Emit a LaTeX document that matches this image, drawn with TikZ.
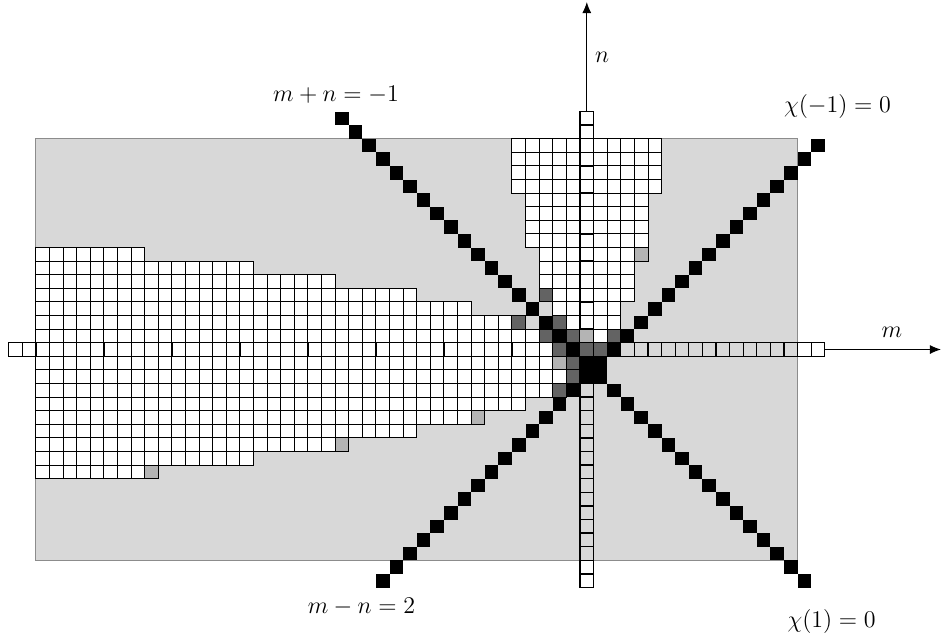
\documentclass[tikz,border=0pt]{standalone}
\usetikzlibrary{arrows.meta}
\definecolor{bgray}{gray}{0.847}
\definecolor{lgray}{gray}{0.706}
\definecolor{dgray}{gray}{0.39}
\definecolor{rimgray}{gray}{0.55}
\begin{document}
\begin{tikzpicture}[x=6.8pt,y=6.8pt,
  wcell/.style={fill=white,draw=black,line width=0.5pt},
  acell/.style={draw=black,line width=0.65pt},
  dcell/.style={fill=dgray,draw=black,line width=0.5pt},
  lcell/.style={fill=lgray,draw=black,line width=0.5pt},
  axisarrow/.style={line width=0.5pt,-{Latex[length=5.5pt,width=4.5pt]}},
  lab/.style={font=\fontsize{11.8}{14}\selectfont,inner sep=0pt,anchor=base},
  biglab/.style={font=\fontsize{13}{15}\selectfont,inner sep=0pt,anchor=base}]
\useasboundingbox (-42.647,-20.934) rectangle (26.618,26.199);
\fill[white] (-42.647,-20.934) rectangle (26.618,26.199);
% shaded domain
\draw[fill=bgray,draw=rimgray,line width=0.5pt] (-40,-15) rectangle (16,16);
% axis cell fills
\foreach \n in {-17,-16,16,17} {\fill[white] (0,\n) rectangle ++(1,1);}
\foreach \m in {-42,-41,16,17} {\fill[white] (\m,0) rectangle ++(1,1);}
% white regions
\foreach \n/\a/\b in {7/-40/-33,6/-40/-25,5/-40/-19,4/-40/-13,3/-40/-9,2/-40/-6,1/-40/-4,0/-40/-3,-1/-40/-3,-2/-40/-2,-3/-40/-3,-4/-40/-5,-5/-40/-9,-6/-40/-13,-7/-40/-19,-8/-40/-25,-9/-40/-33,15/-5/5,14/-5/5,13/-5/5,12/-5/5,11/-4/4,10/-4/4,9/-4/4,8/-4/4,7/-3/3,6/-3/3,5/-3/3,4/-2/3,3/-2/2,2/-1/2,1/1/1}
  {\foreach \m in {\a,...,\b} {\draw[wcell] (\m,\n) rectangle ++(1,1);}}
% axis cell outlines
\foreach \n in {-17,...,17} {\draw[acell] (0,\n) rectangle ++(1,1);}
\foreach \m in {-42,...,17} {\draw[acell] (\m,0) rectangle ++(1,1);}
% special cells
\foreach \m/\n in {-5/2,-3/4,-3/1,-2/2,-1/1,2/1,-2/0,0/0,1/0,-1/-1,-1/-2,-2/-3}
  {\draw[dcell] (\m,\n) rectangle ++(1,1);}
\foreach \m/\n in {0/1,-2/-1,4/7,-8/-5,-18/-7,-32/-9}
  {\draw[lcell] (\m,\n) rectangle ++(1,1);}
% the two lines
\foreach \m in {-18,...,16} {\fill[black] (\m,{-1-\m}) rectangle ++(1,1);}
\foreach \m in {-15,...,17} {\fill[black] (\m,{\m-2}) rectangle ++(1,1);}
% axes
\coordinate (ntail) at (0.5,18);
\coordinate (nhead) at (0.5,26.05);
\coordinate (mtail) at (18,0.5);
\coordinate (mhead) at (26.54,0.5);
\draw[axisarrow] (ntail) -- (nhead);
\draw[axisarrow] (mtail) -- (mhead);
% labels
\node[lab] (nlab) at (1.62,21.57) {$n$};
\node[lab] (mlab) at (22.94,1.35) {$m$};
\node[lab] (mpn) at (-17.94,18.77) {$m+n = -1$};
\node[lab] (mmn) at (-16.07,-18.875) {$m-n = 2$};
\node[biglab] (chim) at (18.93,17.91) {$\chi(-1) = 0$};
\node[biglab] (chip) at (18.5,-19.95) {$\chi(1) = 0$};
\end{tikzpicture}
\end{document}
